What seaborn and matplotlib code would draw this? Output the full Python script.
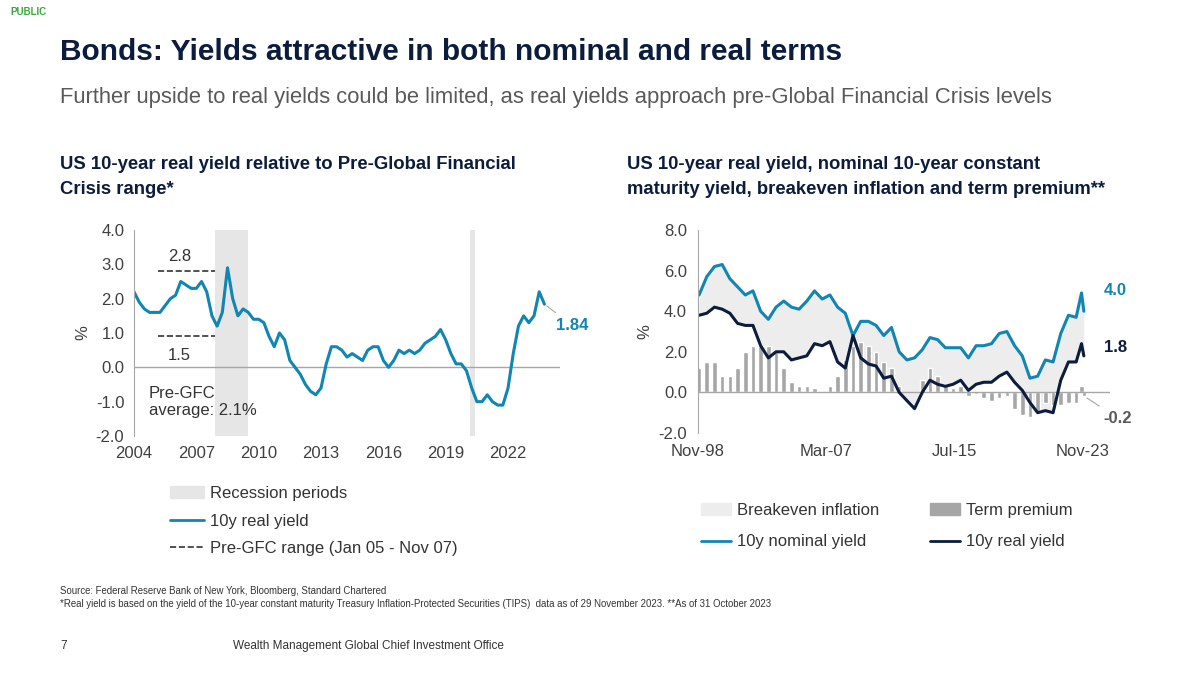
import matplotlib
matplotlib.use('Agg')
import matplotlib.pyplot as plt
import seaborn as sns
import numpy as np
import pandas as pd
from matplotlib.patches import Patch
from matplotlib.lines import Line2D

sns.set_style('white')
plt.rcParams['font.family'] = ['Liberation Sans', 'DejaVu Sans']

# left chart: US 10y real yield, quarterly
left_years = np.arange(2004, 2024, 0.25)
left_real = [2.2, 1.9, 1.7, 1.6, 1.6, 1.6, 1.8, 2.0,
             2.1, 2.5, 2.4, 2.3, 2.3, 2.5, 2.2, 1.5,
             1.2, 1.6, 2.9, 2.0, 1.5, 1.7, 1.6, 1.4,
             1.4, 1.3, 0.9, 0.6, 1.0, 0.8, 0.2, 0.0,
             -0.2, -0.5, -0.7, -0.8, -0.6, 0.1, 0.6, 0.6,
             0.5, 0.3, 0.4, 0.3, 0.2, 0.5, 0.6, 0.6,
             0.2, 0.0, 0.2, 0.5, 0.4, 0.5, 0.4, 0.5,
             0.7, 0.8, 0.9, 1.1, 0.8, 0.4, 0.1, 0.1,
             -0.1, -0.6, -1.0, -1.0, -0.8, -1.0, -1.1, -1.1,
             -0.6, 0.4, 1.2, 1.5, 1.3, 1.5, 2.2, 1.84]
recessions = [(2007.92, 2009.5), (2020.15, 2020.4)]

# right chart: semi-annual nominal, real, term premium
right_dates = list(np.arange(1998.9, 2023.5, 0.5)) + [2023.75, 2023.9]
nominal = [4.8, 5.7, 6.2, 6.3, 5.6, 5.2, 4.8, 5.0, 4.0, 3.6, 4.2, 4.5, 4.2, 4.1, 4.5,
           5.0, 4.6, 4.8, 4.2, 3.9, 2.8, 3.5, 3.5, 3.3, 2.8, 3.2, 2.0, 1.6, 1.7, 2.1,
           2.7, 2.6, 2.2, 2.2, 2.2, 1.7, 2.3, 2.3, 2.4, 2.9, 3.0, 2.3, 1.8, 0.7, 0.8,
           1.6, 1.5, 2.9, 3.8, 3.7, 4.9, 4.0]
real = [3.8, 3.9, 4.2, 4.1, 3.9, 3.4, 3.3, 3.3, 2.3, 1.7, 2.0, 2.0, 1.6, 1.7, 1.8,
        2.4, 2.3, 2.5, 1.5, 1.2, 2.8, 1.7, 1.4, 1.3, 0.7, 0.8, 0.0, -0.4, -0.8, 0.0,
        0.6, 0.4, 0.3, 0.4, 0.6, 0.1, 0.4, 0.5, 0.5, 0.8, 1.0, 0.5, 0.1, -0.5, -1.0,
        -0.9, -1.0, 0.6, 1.5, 1.5, 2.4, 1.8]
term_premium = [1.2, 1.5, 1.5, 0.8, 0.8, 1.2, 2.0, 2.3, 2.3, 2.3, 2.0, 1.2, 0.5, 0.3, 0.3,
                0.2, 0.0, 0.3, 0.8, 1.6, 2.3, 2.5, 2.3, 2.0, 1.5, 1.2, 0.3, 0.0, 0.0, 0.6,
                1.2, 0.8, 0.4, 0.2, 0.3, -0.2, -0.1, -0.3, -0.4, -0.3, -0.2, -0.8, -1.1, -1.2, -0.9,
                -0.5, -0.6, -0.6, -0.5, -0.5, 0.3, -0.2]

BLUE = '#1185B4'
NAVY = '#0B1C3C'
GRAY = '#595959'
W, H = 1200, 675

fig = plt.figure(figsize=(12, 6.75), dpi=100)

def px_axes(x0, y0, x1, y1):
    return fig.add_axes([x0 / W, 1 - y1 / H, (x1 - x0) / W, (y1 - y0) / H])

def txt(x, y, s, **kw):
    fig.text(x / W, 1 - y / H, s, **kw)

txt(10, 12, 'PUBLIC', color='#38A838', fontsize=7, fontweight='bold', va='center')
txt(60, 52, 'Bonds: Yields attractive in both nominal and real terms', color=NAVY,
    fontsize=21.5, fontweight='bold', va='center')
txt(60, 97, 'Further upside to real yields could be limited, as real yields approach pre-Global Financial Crisis levels',
    color=GRAY, fontsize=15.8, va='center')
txt(60, 177, 'US 10-year real yield relative to Pre-Global Financial\nCrisis range*', color=NAVY,
    fontsize=13.3, fontweight='bold', va='center', linespacing=1.55)
txt(627, 177, 'US 10-year real yield, nominal 10-year constant\nmaturity yield, breakeven inflation and term premium**',
    color=NAVY, fontsize=13.3, fontweight='bold', va='center', linespacing=1.55)

# ---- left chart
ax1 = px_axes(134, 230, 560, 436)
for a, b in recessions:
    ax1.axvspan(a, b, color='#E6E6E6', lw=0)
ax1.axhline(0, color='#A6A6A6', lw=1)
sns.lineplot(x=left_years, y=left_real, ax=ax1, color=BLUE, lw=2.2)
ax1.plot([2005.15, 2007.9], [2.8, 2.8], ls='--', color='#333333', lw=1.2)
ax1.plot([2005.15, 2007.9], [0.9, 0.9], ls='--', color='#333333', lw=1.2)
ax1.text(2006.2, 3.1, '2.8', fontsize=12, color='#333333', ha='center')
ax1.text(2006.2, 0.2, '1.5', fontsize=12, color='#333333', ha='center')
ax1.text(2004.7, -1.4, 'Pre-GFC\naverage: 2.1%', fontsize=12, color='#333333')
ax1.annotate('1.84', xy=(2023.75, 1.84), xytext=(2024.3, 1.1), color=BLUE, fontsize=12,
             fontweight='bold', arrowprops=dict(arrowstyle='-', color='#A6A6A6', lw=0.8))
ax1.set_xlim(2004, 2024.5)
ax1.set_ylim(-2, 4)
ax1.set_yticks(np.arange(-2, 4.1, 1))
ax1.set_yticklabels([f'{v:.1f}' for v in np.arange(-2, 4.1, 1)])
ax1.set_xticks(range(2004, 2023, 3))
ax1.set_ylabel('%', fontsize=12, color='#404040')
ax1.tick_params(labelsize=12, colors='#404040', length=0, pad=7)
for s in ['top', 'right', 'bottom']:
    ax1.spines[s].set_visible(False)
ax1.spines['left'].set_color('#A6A6A6')
ax1.legend(handles=[Patch(color='#E6E6E6', label='Recession periods'),
                    Line2D([], [], color=BLUE, lw=2, label='10y real yield'),
                    Line2D([], [], color='#333333', ls='--', lw=1.2, label='Pre-GFC range (Jan 05 - Nov 07)')],
           loc='upper left', bbox_to_anchor=(0.05, -0.17), frameon=False, fontsize=12,
           labelspacing=0.75, handlelength=2.0, handletextpad=0.4, labelcolor='#333333')

# ---- right chart
ax2 = px_axes(698, 230, 1110, 433)
ax2.axhline(0, color='#A6A6A6', lw=1)
ax2.fill_between(right_dates, real, nominal, color='#EDEDED', lw=0)
ax2.bar(right_dates, term_premium, width=0.3, color='#A6A6A6')
sns.lineplot(x=right_dates, y=nominal, ax=ax2, color=BLUE, lw=2.2)
sns.lineplot(x=right_dates, y=real, ax=ax2, color=NAVY, lw=2.2)
ax2.text(2025.2, 4.8, '4.0', color=BLUE, fontsize=12, fontweight='bold')
ax2.text(2025.2, 2.0, '1.8', color=NAVY, fontsize=12, fontweight='bold')
ax2.annotate('-0.2', xy=(2023.95, -0.2), xytext=(2025.2, -1.5), color='#595959', fontsize=12,
             fontweight='bold', arrowprops=dict(arrowstyle='-', color='#A6A6A6', lw=0.8))
ax2.set_xlim(1998.83, 2025.6)
ax2.set_ylim(-2, 8)
ax2.set_yticks(np.arange(-2, 8.1, 2))
ax2.set_yticklabels([f'{v:.1f}' for v in np.arange(-2, 8.1, 2)])
ax2.set_xticks([1998.83, 2007.17, 2015.5, 2023.83])
ax2.set_xticklabels(['Nov-98', 'Mar-07', 'Jul-15', 'Nov-23'])
ax2.set_ylabel('%', fontsize=12, color='#404040')
ax2.tick_params(labelsize=12, colors='#404040', length=0, pad=8)
for s in ['top', 'right', 'bottom']:
    ax2.spines[s].set_visible(False)
ax2.spines['left'].set_color('#A6A6A6')
ax2.legend(handles=[Patch(color='#EDEDED', label='Breakeven inflation'),
                    Line2D([], [], color=BLUE, lw=2, label='10y nominal yield'),
                    Patch(color='#A6A6A6', label='Term premium'),
                    Line2D([], [], color=NAVY, lw=2, label='10y real yield')],
           loc='upper left', bbox_to_anchor=(-0.03, -0.27), frameon=False, fontsize=12,
           ncol=2, columnspacing=3.0, labelspacing=1.0, handlelength=1.8, handletextpad=0.4,
           labelcolor='#333333')

# ---- footer
txt(60, 591, 'Source: Federal Reserve Bank of New York, Bloomberg, Standard Chartered', fontsize=6.9, color='#333333', va='center')
txt(60, 604, '*Real yield is based on the yield of the 10-year constant maturity Treasury Inflation-Protected Securities (TIPS)  data as of 29 November 2023. **As of 31 October 2023',
    fontsize=6.9, color='#333333', va='center')
txt(60, 646, '7', fontsize=8.5, color='#333333', va='center')
txt(233, 646, 'Wealth Management Global Chief Investment Office', fontsize=8.5, color='#333333', va='center')

fig.savefig('out.png', dpi=100)
